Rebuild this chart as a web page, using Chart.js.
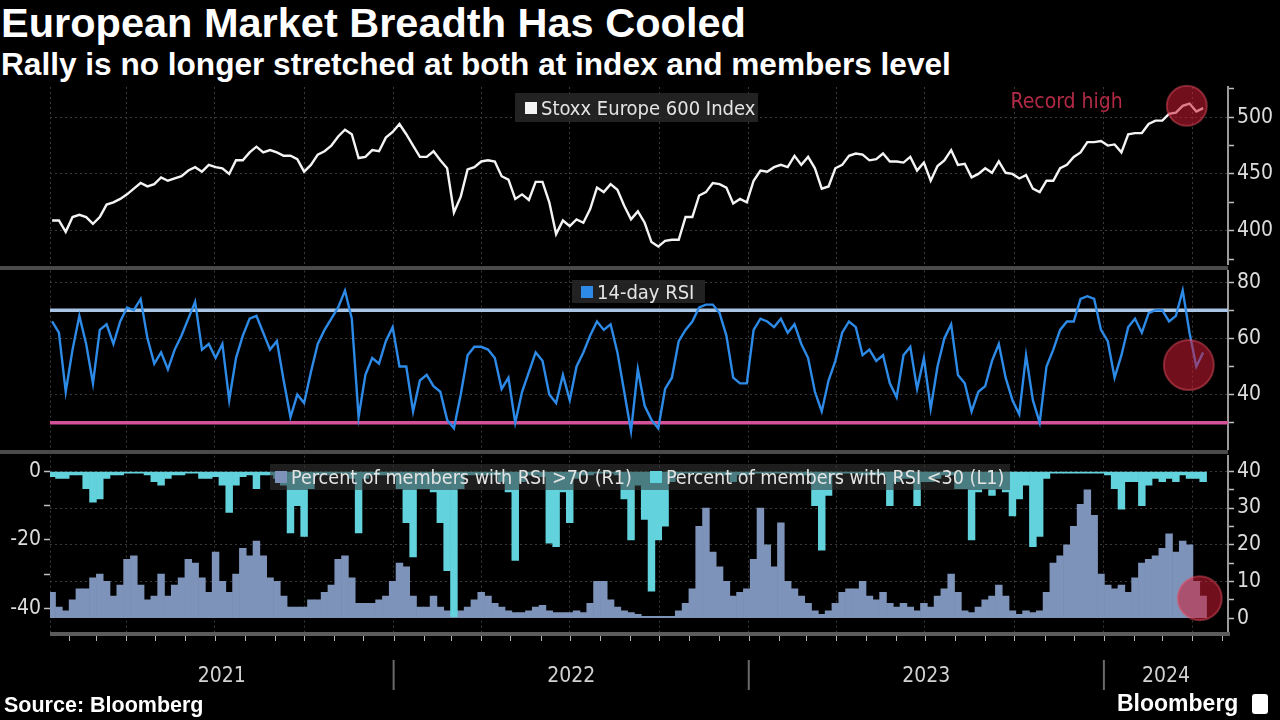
<!DOCTYPE html>
<html>
<head>
<meta charset="utf-8">
<script src="https://cdn.jsdelivr.net/npm/chart.js"></script>
<style>
  body { margin: 0; background: #000; width: 1280px; height: 720px; overflow: hidden; position: relative; font-family: "Liberation Sans", Arial, sans-serif; }
  canvas { position: absolute; left: 0; }
  .t { position: absolute; color: #fff; font-weight: bold; white-space: nowrap; }
  .leg { position: absolute; font-family: "DejaVu Sans Condensed", "DejaVu Sans", sans-serif; font-size: 20px; color: #e4e4e4; white-space: nowrap; display: flex; align-items: center; box-sizing: border-box; }
  .sw { display: inline-block; flex: 0 0 12px; width: 12px; height: 12px; margin-right: 4px; }
  .bar { position: absolute; left: 0; width: 1228px; height: 4px; background: #4a4a4a; }
</style>
</head>
<body>
<div class="t" style="left:1px;top:-1px;font-size:41.5px">European Market Breadth Has Cooled</div>
<div class="t" style="left:1px;top:46px;font-size:31.6px">Rally is no longer stretched at both at index and members level</div>

<div class="bar" style="top:266px"></div>
<div class="bar" style="top:450px"></div>

<canvas id="c1" width="1280" height="210" style="top:70px"></canvas>
<canvas id="c2" width="1280" height="210" style="top:255px"></canvas>
<canvas id="c3" width="1280" height="280" style="top:440px"></canvas>

<div class="leg" style="left:515px;top:93px;width:243px;height:29px;background:rgba(40,40,40,0.85);padding-left:10px">
  <span class="sw" style="background:#f4f4f4"></span>Stoxx Europe 600 Index</div>
<div class="leg" style="left:572px;top:280px;width:133px;height:23px;background:rgba(40,40,40,0.85);padding-left:9px">
  <span class="sw" style="background:#2d8ae6"></span>14-day RSI</div>
<div class="leg" style="left:270px;top:464px;width:740px;height:26px;background:rgba(55,55,55,0.55);padding-left:5px;font-size:19.6px">
  <span class="sw" style="background:#7e93b9"></span>Percent of members with RSI &gt;70 (R1)
  <span class="sw" style="background:#62d2dc;margin-left:18px"></span>Percent of members with RSI &lt;30 (L1)</div>

<div class="t" style="left:4px;top:693px;font-size:21.5px">Source: Bloomberg</div>
<div class="t" style="left:1117px;top:690px;font-size:23px">Bloomberg</div>
<div style="position:absolute;left:1252px;top:694px;width:16px;height:20px;background:#fff;border-radius:3px"></div>

<script>
// weekly closes, first week ending 2021-01-15
const weekStart = Date.UTC(2021, 0, 15);
const DAY = 864e5;

const stoxx = [
  409, 409, 399, 412, 414, 412, 406, 412, 423, 425,
  428, 432, 437, 442, 439, 441, 447, 444, 446, 448,
  453, 456, 452, 458, 456, 455, 450, 462, 462, 469,
  474, 469, 471, 469, 466, 466, 463, 452, 458, 467,
  470, 475, 483, 489, 485, 464, 465, 471, 470, 482,
  487, 494, 485, 475, 465, 465, 470, 462, 455, 416,
  430, 454, 456, 461, 462, 461, 448, 445, 428, 432,
  427, 443, 443, 425, 397, 409, 404, 410, 407, 419,
  438, 434, 441, 436, 422, 410, 417, 407, 390, 386,
  391, 392, 392, 412, 412, 431, 434, 442, 441, 438,
  424, 428, 425, 444, 453, 452, 456, 458, 456, 466,
  458, 465, 455, 437, 439, 455, 458, 466, 468, 467,
  462, 463, 468, 461, 461, 460, 465, 453, 460, 444,
  457, 462, 471, 458, 459, 447, 450, 455, 451, 461,
  451, 450, 446, 449, 437, 434, 444, 444, 455, 458,
  465, 469, 478, 478, 479, 475, 476, 469, 485, 486,
  486, 494, 497, 497, 503, 504, 510, 512, 505, 508
];

const rsi = [
  66, 62, 41, 56, 68, 58, 44, 63, 65, 58,
  66, 71, 70, 74, 60, 51, 55, 49, 56, 61,
  67, 73, 56, 58, 53, 58, 38, 53, 61, 67,
  68, 62, 56, 59, 45, 32, 40, 37, 48, 58,
  63, 67, 71, 77, 67, 32, 47, 53, 51, 59,
  64, 50, 50, 34, 45, 47, 43, 41, 31, 28,
  40, 54, 57, 57, 56, 53, 42, 46, 30, 41,
  48, 55, 52, 40, 37, 47, 38, 50, 55, 61,
  66, 63, 65, 55, 41, 27, 49, 36, 31, 28,
  42, 46, 59, 63, 66, 71, 72, 72, 69, 61,
  46, 44, 44, 63, 67, 66, 64, 67, 62, 65,
  58, 53, 41, 34, 45, 52, 62, 66, 64, 54,
  56, 52, 54, 44, 39, 54, 57, 42, 53, 35,
  50, 60, 65, 47, 44, 34, 41, 43, 52, 58,
  46, 38, 33, 54, 38, 30, 50, 56, 63, 66,
  66, 74, 75, 74, 63, 59, 46, 54, 64, 67,
  62, 69, 70, 70, 66, 68, 77, 62, 50, 55
];

// percent of members with RSI > 70 (right axis)
const pctOver70 = [
  7, 3, 2, 5, 8, 8, 11, 12, 10, 6,
  9, 16, 17, 9, 5, 6, 12, 6, 9, 11,
  16, 15, 11, 7, 18, 10, 7, 12, 19, 17,
  21, 17, 11, 10, 6, 3, 3, 3, 5, 5,
  7, 9, 16, 17, 11, 4, 4, 4, 5, 6,
  10, 15, 14, 6, 3, 3, 6, 3, 2, 1,
  2, 3, 5, 7, 6, 4, 3, 2, 1.5, 1.5,
  2, 3, 3.5, 2, 1.5, 1.5, 1.5, 2, 1.5, 4,
  10, 10, 5, 3, 2, 1.5, 1, 0.5, 0.5, 0.5,
  0.5, 0.5, 2, 4, 8, 25, 30, 18, 14, 10,
  6, 7, 8, 16, 30, 20, 14, 26, 10, 8,
  6, 4, 2, 1, 2, 4, 7, 8, 8, 10,
  6, 5, 7, 4, 3, 4, 3, 2, 4, 3,
  6, 8, 12, 7, 2, 1.5, 3, 5, 6, 9,
  6, 2, 1, 2, 1.5, 2, 7, 15, 17, 20,
  25, 31, 35, 28, 12, 9, 8, 9, 7, 11,
  15, 16, 17, 19, 23, 18, 21, 20, 10, 6
];

// percent of members with RSI < 30, plotted negative (left axis)
const pctUnder30 = [
  -1.5, -2, -2, -1, -1, -5, -9, -8, -2, -1,
  -1, -0.5, -0.5, -0.5, -1, -3, -4, -2, -1, -1,
  -0.5, -0.5, -2, -2, -1.5, -4, -12, -4, -1.5, -1,
  -5, -1, -1, -2, -4, -18, -10, -19, -5, -1,
  -1, -1, -0.5, -0.5, -2, -18, -2, -1, -1, -1,
  -1, -5, -15, -25, -5, -5, -6, -15, -29, -42.5,
  -5, -1, -1, -1, -1, -1, -3, -6, -26, -3,
  -1, -1, -1.5, -21, -22, -6, -15, -2, -1, -1,
  -0.5, -0.5, -0.5, -1, -8, -20, -4, -14, -35, -20,
  -16, -3, -1, -0.5, -0.5, -0.5, -0.5, -0.5, -0.5, -1,
  -3, -1, -1, -0.5, -0.5, -0.5, -0.5, -0.5, -0.5, -0.5,
  -1, -1, -10, -23, -7, -1, -0.5, -0.5, -0.5, -1,
  -1, -1, -1, -10, -3, -2, -2, -10, -3, -3,
  -2, -1, -1, -5, -5, -20, -6, -5, -7, -5,
  -6, -13, -8, -4, -22, -19, -2, -0.5, -0.5, -0.5,
  -0.5, -0.5, -0.5, -0.5, -0.5, -1, -5, -11, -3, -3,
  -10, -4, -2, -3, -2, -3, -1, -2, -2, -3
];

const years = ['2021', '2022', '2023', '2024'];
const rsiBands = [70, 30];
const rsiBandColors = ['#a9c5e6', '#d4529a'];

const xMin = -0.31, xMax = 172.65;
const FONT = '"DejaVu Sans Condensed", "DejaVu Sans", sans-serif';

const idxOf = (y, m, d) => (Date.UTC(y, m, d || 1) - weekStart) / (7 * DAY);
const pts = arr => arr.map((v, i) => ({ x: i, y: v }));

const quarterIdx = [];
const monthIdx = [];
for (let y = 2021; y <= 2024; y++) {
  for (let m = 0; m < 12; m++) {
    const v = idxOf(y, m);
    if (v <= xMin || v >= xMax) continue;
    monthIdx.push(v);
    if (m % 3 === 0) quarterIdx.push(v);
  }
}

function xScale() {
  return {
    type: 'linear', min: xMin, max: xMax, offset: false,
    ticks: { display: false },
    grid: { color: '#3a3a3a', lineWidth: 1, drawTicks: false, offset: false },
    border: { display: false, dash: [2, 3] },
    afterBuildTicks: s => { s.ticks = [xMin].concat(quarterIdx).map(v => ({ value: v })); },
    afterFit: s => { s.height = 0; }
  };
}

function yScale(pos, min, max, ticks, labels, grid, showBorder) {
  return {
    type: 'linear', position: pos, min: min, max: max,
    afterBuildTicks: s => { s.ticks = ticks.map(v => ({ value: v })); },
    afterFit: s => { s.width = pos === 'right' ? 52 : 50; },
    ticks: {
      autoSkip: false, color: '#dcdcdc', padding: 3,
      font: { family: FONT, size: 21 },
      callback: v => labels.includes(v) ? String(v) : ''
    },
    grid: {
      color: c => (c.tick && grid.includes(c.tick.value)) ? '#3a3a3a' : 'rgba(0,0,0,0)',
      tickColor: '#bdbdbd', tickLength: 6, tickWidth: 1.5, lineWidth: 1
    },
    border: { display: showBorder, color: '#9a9a9a', width: 2, dash: [2, 3] }
  };
}

function ringPlugin(id, idx, val, axisId, r) {
  return {
    id: id,
    afterDatasetsDraw(chart) {
      const ctx = chart.ctx;
      const x = chart.scales.x.getPixelForValue(idx);
      const y = chart.scales[axisId].getPixelForValue(val);
      ctx.save();
      ctx.beginPath();
      ctx.arc(x, y, r, 0, Math.PI * 2);
      ctx.fillStyle = 'rgba(205,28,52,0.55)';
      ctx.fill();
      ctx.lineWidth = 2;
      ctx.strokeStyle = 'rgba(235,80,100,0.45)';
      ctx.stroke();
      if (id === 'recordRing') {
        ctx.font = '21px ' + FONT;
        ctx.fillStyle = '#b22a45';
        ctx.textAlign = 'right';
        ctx.textBaseline = 'middle';
        ctx.fillText('Record high', x - 64, y - 3);
      }
      ctx.restore();
    }
  };
}

const bandsPlugin = {
  id: 'bands',
  beforeDatasetsDraw(chart) {
    const ctx = chart.ctx, a = chart.chartArea, ys = chart.scales.y;
    ctx.save();
    rsiBands.forEach((v, k) => {
      const y = ys.getPixelForValue(v);
      ctx.beginPath();
      ctx.moveTo(a.left, y);
      ctx.lineTo(a.right, y);
      ctx.lineWidth = 3.5;
      ctx.strokeStyle = rsiBandColors[k];
      ctx.stroke();
    });
    ctx.restore();
  }
};

const timeAxisPlugin = {
  id: 'timeAxis',
  afterDraw(chart) {
    const ctx = chart.ctx, a = chart.chartArea, xs = chart.scales.x;
    const y0 = a.bottom;
    ctx.save();
    ctx.fillStyle = '#5c5c5c';
    ctx.fillRect(a.left, y0, a.right - a.left + 2, 4);
    ctx.strokeStyle = '#b5b5b5';
    ctx.lineWidth = 1;
    monthIdx.forEach(v => {
      const x = Math.round(xs.getPixelForValue(v)) + 0.5;
      ctx.beginPath(); ctx.moveTo(x, y0 + 4); ctx.lineTo(x, y0 + 9); ctx.stroke();
    });
    ctx.strokeStyle = '#6a6a6a';
    ctx.lineWidth = 2;
    ctx.font = '21px ' + FONT;
    ctx.fillStyle = '#d2d2d2';
    ctx.textAlign = 'center';
    ctx.textBaseline = 'middle';
    years.forEach((yr, k) => {
      const start = idxOf(+yr, 0, 1), end = idxOf(+yr + 1, 0, 1);
      if (k > 0) {
        const x = xs.getPixelForValue(start);
        ctx.beginPath(); ctx.moveTo(x, y0 + 28); ctx.lineTo(x, y0 + 58); ctx.stroke();
      }
      const cx = (xs.getPixelForValue(Math.max(xMin, start)) + xs.getPixelForValue(Math.min(xMax, end))) / 2;
      ctx.fillText(yr, cx, y0 + 45);
    });
    ctx.restore();
  }
};

const base = {
  animation: false, responsive: false, devicePixelRatio: 1, events: [],
  plugins: { legend: { display: false }, tooltip: { enabled: false } }
};

new Chart(document.getElementById('c1'), {
  type: 'line',
  data: { datasets: [{ data: pts(stoxx), borderColor: '#f4f4f4', borderWidth: 2.4, pointRadius: 0, tension: 0 }] },
  options: Object.assign({}, base, {
    layout: { padding: { left: 50, right: 0, top: 17, bottom: 14 } },
    scales: {
      x: xScale(),
      y: yScale('right', 370.3, 526.6, [375, 400, 425, 450, 475, 500, 525], [400, 450, 500], [400, 450, 500], true)
    }
  }),
  plugins: [ringPlugin('recordRing', 166.6, 510, 'y', 20)]
});

new Chart(document.getElementById('c2'), {
  type: 'line',
  data: { datasets: [{ data: pts(rsi), borderColor: '#2d8ae6', borderWidth: 2.4, pointRadius: 0, tension: 0 }] },
  options: Object.assign({}, base, {
    layout: { padding: { left: 50, right: 0, top: 15, bottom: 15 } },
    scales: {
      x: xScale(),
      y: yScale('right', 20.5, 84.1, [30, 40, 50, 60, 70, 80], [40, 60, 80], [40, 60, 80], true)
    }
  }),
  plugins: [bandsPlugin, ringPlugin('rsiRing', 166.9, 50.5, 'y', 25)]
});

const yL = yScale('left', -46.96, 4.64, [0, -10, -20, -30, -40], [0, -20, -40], [], false);
const yR = yScale('right', -3.8, 44.3, [0, 5, 10, 15, 20, 25, 30, 35, 40], [0, 10, 20, 30, 40], [10, 20, 30, 40], true);

new Chart(document.getElementById('c3'), {
  type: 'bar',
  data: {
    datasets: [
      { data: pts(pctUnder30), yAxisID: 'yL', backgroundColor: '#62d2dc', barPercentage: 1, categoryPercentage: 1, grouped: false, borderWidth: 0 },
      { data: pts(pctOver70), yAxisID: 'yR', backgroundColor: '#7e93b9', barPercentage: 1, categoryPercentage: 1, grouped: false, borderWidth: 0 }
    ]
  },
  options: Object.assign({}, base, {
    layout: { padding: { left: 0, right: 0, top: 14, bottom: 88 } },
    scales: { x: xScale(), yL: yL, yR: yR }
  }),
  plugins: [timeAxisPlugin, ringPlugin('pctRing', 168.5, 5.4, 'yR', 22)]
});
</script>
</body>
</html>
